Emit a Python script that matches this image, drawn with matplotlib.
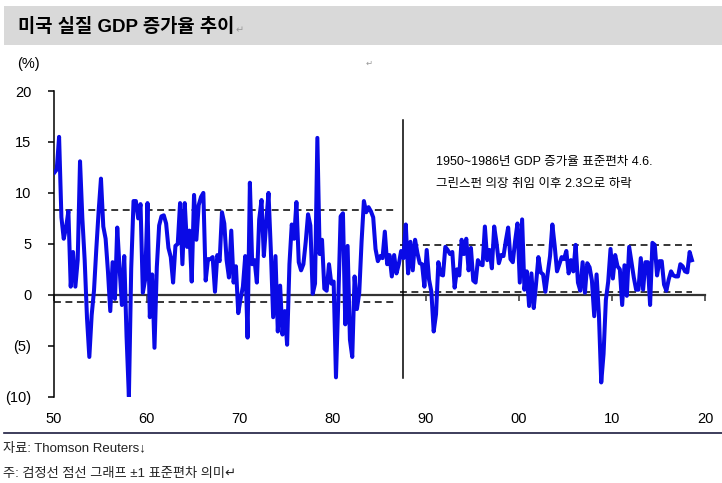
import numpy as np
import matplotlib
matplotlib.use('Agg')
import matplotlib.pyplot as plt
from matplotlib.patches import Rectangle
from matplotlib.lines import Line2D

plt.rcParams['font.family'] = ['Liberation Sans', 'Noto Sans CJK KR', 'DejaVu Sans']

# Quarterly US real GDP growth (% q/q SAAR), 1950Q1 - 2018Q3
start_year = 1950
gdp_growth = [
    12.0, 12.3, 15.5, 7.6,    # 1950
    5.5, 6.6, 8.2, 0.8,       # 1951
    4.2, 0.8, 3.4, 13.1,      # 1952
    7.5, 3.4, -2.3, -6.1,     # 1953
    -2.0, 0.4, 4.5, 8.2,      # 1954
    11.4, 6.7, 5.5, 2.3,      # 1955
    -1.6, 3.2, -0.4, 6.6,     # 1956
    2.6, -1.0, 3.8, -4.1,     # 1957
    -10.0, 2.6, 9.2, 9.2,     # 1958
    7.5, 8.9, 0.2, 1.5,       # 1959
    9.0, -2.2, 2.0, -5.2,     # 1960
    2.7, 6.8, 7.7, 7.8,       # 1961
    7.0, 4.6, 3.7, 1.2,       # 1962
    4.8, 5.0, 9.0, 3.0,       # 1963
    9.0, 4.7, 6.3, 1.3,       # 1964
    9.8, 5.4, 8.8, 9.6,       # 1965
    10.0, 1.4, 3.5, 3.5,      # 1966
    3.7, 0.3, 3.9, 3.3,       # 1967
    8.1, 7.0, 3.4, 1.7,       # 1968
    6.3, 1.2, 2.8, -1.8,      # 1969
    -0.4, 0.8, 3.8, -4.2,     # 1970
    11.0, 3.0, 3.4, 1.2,      # 1971
    7.4, 9.3, 3.8, 7.0,       # 1972
    10.0, 4.4, -2.2, 3.8,     # 1973
    -3.6, 0.9, -3.9, -1.6,    # 1974
    -4.9, 3.0, 6.9, 5.5,      # 1975
    9.1, 3.2, 2.4, 3.0,       # 1976
    5.2, 7.9, 6.8, 0.1,       # 1977
    1.1, 15.4, 4.0, 5.4,      # 1978
    0.6, 0.4, 3.0, 1.1,       # 1979
    1.3, -8.1, -0.5, 7.7,     # 1980
    8.0, -2.9, 4.8, -4.4,     # 1981
    -6.1, 1.8, -1.4, 0.2,     # 1982
    5.2, 9.2, 8.1, 8.6,       # 1983
    8.2, 7.6, 4.5, 3.3,       # 1984
    3.8, 3.6, 6.2, 3.0,       # 1985
    3.9, 1.8, 3.9, 2.1,       # 1986
    3.0, 4.3, 3.6, 6.9,       # 1987
    2.1, 5.2, 2.4, 5.4,       # 1988
    4.1, 3.1, 3.0, 0.8,       # 1989
    4.4, 1.5, 0.3, -3.6,      # 1990
    -1.9, 3.2, 2.0, 1.9,      # 1991
    4.7, 4.4, 4.0, 4.2,       # 1992
    0.7, 2.5, 1.9, 5.4,       # 1993
    4.0, 5.5, 2.4, 4.6,       # 1994
    1.4, 1.2, 3.4, 3.0,       # 1995
    2.9, 6.7, 3.4, 4.4,       # 1996
    2.6, 6.7, 5.1, 3.1,       # 1997
    3.9, 3.8, 5.3, 6.6,       # 1998
    3.5, 3.2, 5.3, 7.0,       # 1999
    1.2, 7.4, 0.5, 2.3,       # 2000
    -1.1, 2.1, -1.3, 1.1,     # 2001
    3.7, 2.2, 2.0, 0.3,       # 2002
    2.1, 3.8, 6.9, 4.8,       # 2003
    2.3, 3.0, 3.7, 3.5,       # 2004
    4.3, 2.1, 3.4, 2.3,       # 2005
    4.9, 1.2, 0.4, 3.2,       # 2006
    0.2, 3.1, 2.7, 1.4,       # 2007
    -2.1, 2.0, -1.9, -8.6,    # 2008
    -5.8, -0.5, 1.3, 4.5,     # 2009
    1.6, 3.9, 2.8, 2.5,       # 2010
    -1.0, 2.9, -0.1, 4.7,     # 2011
    3.2, 1.7, 0.5, 0.5,       # 2012
    3.6, 0.5, 3.2, 3.2,       # 2013
    -1.0, 5.1, 4.9, 1.9,      # 2014
    3.3, 3.3, 1.0, 0.4,       # 2015
    1.5, 2.3, 1.9, 1.8,       # 2016
    1.8, 3.0, 2.8, 2.3,       # 2017
    2.2, 4.2, 3.4,            # 2018
]

# +-1 standard deviation bands (before / after Greenspan)
band_pre = [8.3, -0.7]
band_pre_span = [1950.0, 1986.9]
band_post = [4.9, 0.3]
band_post_span = [1987.2, 2018.6]
greenspan_x = 1987.55
greenspan_range = [-8.2, 17.15]

y_ticks = [20, 15, 10, 5, 0, -5, -10]
y_labels = ['20', '15', '10', '5', '0', '(5)', '(10)']
x_ticks = [1950, 1960, 1970, 1980, 1990, 2000, 2010, 2020]
x_labels = ['50', '60', '70', '80', '90', '00', '10', '20']

title = '미국 실질 GDP 증가율 추이'
note1 = '1950~1986년 GDP 증가율 표준편차 4.6.'
note2 = '그린스펀 의장 취임 이후 2.3으로 하락'
source = '자료: Thomson Reuters'
footnote = '주: 검정선 점선 그래프 ±1 표준편차 의미'

W, H = 722, 483
fig = plt.figure(figsize=(W / 100, H / 100), dpi=100)
fig.patch.set_facecolor('white')

ax = fig.add_axes([53.5 / W, 1 - 396.7 / H, (705 - 53.5) / W, (396.7 - 91) / H])
ax.set_xlim(1950, 2020)
ax.set_ylim(-10, 20)

x = start_year + np.arange(len(gdp_growth)) / 4 + 0.1
ax.plot(x, gdp_growth, color='#0a0ae6', lw=2.9, zorder=4, solid_joinstyle='round')

dash = (0, (4.5, 3))
for v in band_pre:
    ax.plot(band_pre_span, [v, v], color='black', lw=1.1, linestyle=dash, zorder=3)
for v in band_post:
    ax.plot(band_post_span, [v, v], color='black', lw=1.1, linestyle=dash, zorder=3)
ax.plot([greenspan_x, greenspan_x], greenspan_range, color='black', lw=1.1, zorder=3)

# axes styling
for s in ['top', 'right']:
    ax.spines[s].set_visible(False)
ax.spines['left'].set_linewidth(1.1)
ax.spines['left'].set_color('black')
ax.spines['bottom'].set_position(('data', 0))
ax.spines['bottom'].set_linewidth(1.6)
ax.spines['bottom'].set_color('#333333')
ax.spines['bottom'].set_zorder(2)

ax.set_yticks(y_ticks)
ax.set_yticklabels(y_labels)
ax.tick_params(axis='y', direction='out', length=4, width=1.1, pad=12,
               labelsize=10.5, colors='black')
ax.set_xticks(x_ticks)
ax.tick_params(axis='x', direction='out', length=4.5, width=1.1, color='#333333',
               labelbottom=False)

sec = ax.secondary_xaxis('bottom')
sec.set_xticks(x_ticks)
sec.set_xticklabels(x_labels)
sec.spines['bottom'].set_visible(False)
sec.tick_params(axis='x', length=0, pad=11, labelsize=10.5)

ax.text(1991.1, 13.0, note1, fontsize=9, va='center', ha='left')
ax.text(1991.1, 10.9, note2, fontsize=9, va='center', ha='left')

# header bar
fig.patches.append(Rectangle((4 / W, 1 - 45 / H), 1 - 4 / W, 39 / H,
                             transform=fig.transFigure, facecolor='#d9d9d9',
                             edgecolor='none', zorder=0))
t = fig.text(18 / W, 1 - 27 / H, title, fontsize=13.5, fontweight='bold',
             va='center', ha='left')
fig.canvas.draw()
bb = t.get_window_extent()
fig.text(bb.x1 / W + 1 / W, 1 - 30 / H, '↵', fontsize=7, color='#999999',
         va='center', ha='left', family=['DejaVu Sans'])

fig.text(17 / W, 1 - 64 / H, '(%)', fontsize=10.5, va='center', ha='left')
fig.text(366 / W, 1 - 63 / H, '↵', fontsize=6, color='#999999', va='center',
         ha='left', family=['DejaVu Sans'])

# footer
fig.add_artist(Line2D([4 / W, 1], [1 - 433 / H, 1 - 433 / H], transform=fig.transFigure,
                      color='#1c1c40', lw=1.2))
fig.text(3 / W, 1 - 449 / H, source + '↓', fontsize=9.5, va='center', ha='left',
         color='#222222')
fig.text(3 / W, 1 - 474 / H, footnote + '↵', fontsize=9.5, va='center', ha='left',
         color='#222222')

fig.savefig('out.png', dpi=100, facecolor='white')
